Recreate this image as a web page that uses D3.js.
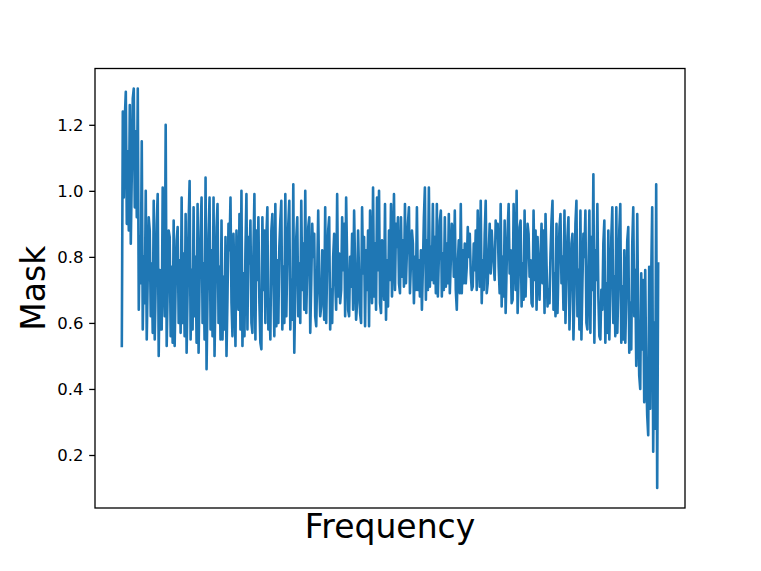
<!DOCTYPE html>
<html>
<head>
<meta charset="utf-8">
<script src="https://cdn.jsdelivr.net/npm/d3@7"></script>
<style>
  body { margin: 0; background: #fff; }
  text { font-family: "DejaVu Sans", sans-serif; }
</style>
</head>
<body>
<div class="canva"></div>
<script>
// mask value per frequency bin
const mask = [
  0.53, 1.24, 0.98, 1.22, 1.30, 0.90, 1.12, 0.88, 1.26, 0.84, 1.05, 1.28, 1.31, 0.95, 1.18, 0.92, 1.31, 0.64, 0.86, 0.72,
  1.15, 0.58, 0.80, 0.66, 1.00, 0.55, 0.74, 0.92, 0.88, 0.62, 0.78, 0.57, 0.97, 0.55, 0.72, 0.90, 0.99, 0.50, 0.76, 0.58,
  0.58, 1.01, 0.75, 0.62, 1.20, 0.53, 0.70, 0.88, 0.86, 0.56, 0.77, 0.54, 0.91, 0.53, 0.72, 0.85, 0.89, 0.60, 0.79, 0.57,
  0.98, 0.60, 0.81, 0.56, 0.93, 0.51, 0.70, 0.90, 1.03, 0.55, 0.76, 0.58, 0.95, 0.62, 0.80, 0.54, 0.96, 0.51, 0.73, 0.88,
  0.98, 0.60, 0.78, 0.55, 1.04, 0.46, 0.69, 0.87, 0.98, 0.58, 0.82, 0.56, 0.98, 0.50, 0.71, 0.89, 0.96, 0.60, 0.77, 0.55,
  0.91, 0.55, 0.74, 0.58, 0.86, 0.50, 0.68, 0.90, 0.82, 0.98, 0.66, 0.56, 0.87, 0.72, 0.53, 0.88, 0.76, 0.64, 0.93, 0.58,
  1.00, 0.53, 0.75, 0.56, 0.82, 0.99, 0.58, 0.86, 0.78, 0.91, 0.60, 0.57, 0.81, 0.99, 0.55, 0.88, 0.73, 0.92, 0.66, 0.54,
  0.52, 0.92, 0.70, 0.88, 0.60, 0.86, 0.95, 0.58, 0.67, 0.55, 0.88, 0.93, 0.74, 0.56, 0.96, 0.59, 0.79, 0.60, 0.83, 0.91,
  0.97, 0.58, 0.77, 0.60, 0.99, 0.62, 0.80, 0.90, 0.97, 0.58, 0.73, 0.61, 1.02, 0.51, 0.70, 0.86, 0.92, 0.62, 0.78, 0.60,
  0.97, 0.70, 0.84, 0.64, 1.00, 0.63, 0.76, 0.89, 0.92, 0.57, 0.72, 0.90, 0.80, 0.87, 0.62, 0.59, 0.75, 0.94, 0.71, 0.62,
  0.65, 0.82, 0.74, 0.61, 0.95, 0.60, 0.78, 0.88, 0.92, 0.58, 0.70, 0.60, 0.80, 0.87, 0.73, 0.64, 0.99, 0.68, 0.81, 0.66,
  0.70, 0.92, 0.76, 0.90, 0.62, 0.98, 0.79, 0.64, 0.62, 0.80, 0.71, 0.87, 0.64, 0.94, 0.77, 0.61, 0.66, 0.88, 0.74, 0.63,
  0.60, 0.95, 0.75, 0.86, 0.59, 0.82, 0.70, 0.88, 0.59, 0.94, 0.80, 0.66, 1.01, 0.68, 0.84, 0.64, 0.98, 0.76, 1.00, 0.66,
  0.63, 0.85, 0.74, 0.67, 0.96, 0.61, 0.79, 0.65, 0.88, 0.73, 0.96, 0.68, 0.81, 0.99, 0.70, 0.90, 0.83, 0.92, 0.72, 0.69,
  0.92, 0.74, 0.85, 0.71, 0.96, 0.72, 0.82, 0.90, 0.95, 0.69, 0.78, 0.88, 0.84, 0.66, 0.80, 0.70, 0.95, 0.70, 0.79, 0.68,
  0.82, 0.64, 0.77, 0.92, 1.01, 0.67, 0.85, 0.70, 1.01, 0.71, 0.83, 0.73, 0.96, 0.72, 0.86, 0.69, 0.96, 0.68, 0.80, 0.91,
  0.94, 0.68, 0.81, 0.70, 0.92, 0.71, 0.84, 0.72, 0.93, 0.69, 0.79, 0.90, 0.88, 0.74, 0.94, 0.70, 0.64, 0.78, 0.85, 0.69,
  0.96, 0.69, 0.82, 0.72, 0.84, 0.72, 0.77, 0.89, 0.80, 0.87, 0.75, 0.70, 0.71, 0.84, 0.76, 0.88, 0.70, 0.94, 0.80, 0.71,
  0.97, 0.66, 0.79, 0.70, 0.87, 0.97, 0.69, 0.72, 0.81, 0.90, 0.75, 0.88, 0.82, 0.78, 0.73, 0.91, 0.86, 0.90, 0.77, 0.69,
  0.96, 0.65, 0.80, 0.68, 0.91, 0.63, 0.77, 0.88, 0.96, 0.75, 0.82, 0.66, 0.67, 0.96, 0.79, 0.70, 1.00, 0.63, 0.74, 0.89,
  0.91, 0.65, 0.78, 0.67, 0.94, 0.68, 0.80, 0.90, 0.87, 0.74, 0.79, 0.66, 0.65, 0.94, 0.73, 0.88, 0.64, 0.86, 0.76, 0.67,
  0.80, 0.90, 0.72, 0.88, 0.63, 0.93, 0.78, 0.65, 0.70, 0.66, 0.81, 0.91, 0.97, 0.64, 0.75, 0.62, 0.90, 0.63, 0.77, 0.89,
  0.93, 0.72, 0.80, 0.64, 0.94, 0.60, 0.74, 0.86, 0.92, 0.58, 0.71, 0.84, 0.87, 0.55, 0.69, 0.90, 0.97, 0.62, 0.76, 0.58,
  0.94, 0.55, 0.72, 0.87, 0.80, 0.94, 0.60, 0.58, 0.75, 0.94, 0.57, 0.86, 0.70, 1.05, 0.54, 0.82, 0.73, 0.96, 0.68, 0.56,
  0.55, 0.70, 0.64, 0.84, 0.91, 0.54, 0.72, 0.57, 0.88, 0.55, 0.69, 0.86, 0.95, 0.60, 0.74, 0.56, 0.95, 0.57, 0.70, 0.88,
  0.96, 0.54, 0.71, 0.55, 0.82, 0.54, 0.68, 0.85, 0.89, 0.51, 0.66, 0.52, 0.84, 0.95, 0.62, 0.76, 0.47, 0.93, 0.60, 0.44,
  0.40, 0.75, 0.52, 0.73, 0.36, 0.76, 0.45, 0.32, 0.26, 0.77, 0.34, 0.74, 0.95, 0.21, 0.60, 0.28, 1.02, 0.10, 0.78
];

const yTicks = [0.2, 0.4, 0.6, 0.8, 1.0, 1.2];
const xLabel = "Frequency";
const yLabel = "Mask";

const width = 761, height = 571;
const margin = {top: 68.5, right: 76, bottom: 63, left: 95};

const svg = d3.select(".canva").append("svg")
    .attr("width", width)
    .attr("height", height);

// matplotlib style 5% padding around the data
const n = mask.length;
const x = d3.scaleLinear()
    .domain([-0.05 * (n - 1), 1.05 * (n - 1)])
    .range([margin.left, width - margin.right]);

const yMin = d3.min(mask), yMax = d3.max(mask);
const pad = (yMax - yMin) * 0.05;
const y = d3.scaleLinear()
    .domain([yMin - pad, yMax + pad])
    .range([height - margin.bottom, margin.top]);

const line = d3.line()
    .x((d, i) => x(i))
    .y(d => y(d));

svg.append("path")
    .datum(mask)
    .attr("fill", "none")
    .attr("stroke", "#1f77b4")
    .attr("stroke-width", 2.6)
    .attr("stroke-linejoin", "round")
    .attr("stroke-linecap", "square")
    .attr("d", line);

// frame
svg.append("rect")
    .attr("x", margin.left)
    .attr("y", margin.top)
    .attr("width", width - margin.right - margin.left)
    .attr("height", height - margin.bottom - margin.top)
    .attr("fill", "none")
    .attr("stroke", "#000")
    .attr("stroke-width", 1.3);

const yAxis = svg.append("g")
    .attr("transform", `translate(${margin.left},0)`)
    .call(d3.axisLeft(y)
        .tickValues(yTicks)
        .tickFormat(d3.format(".1f"))
        .tickSize(5.8)
        .tickPadding(5.8));

yAxis.select(".domain").remove();
yAxis.selectAll(".tick line").attr("stroke", "#000").attr("stroke-width", 1.3);
yAxis.selectAll(".tick text")
    .attr("fill", "#000")
    .style("font-size", "16.5px")
    .style("font-family", "DejaVu Sans");

svg.append("text")
    .attr("x", (margin.left + width - margin.right) / 2)
    .attr("y", 538)
    .attr("text-anchor", "middle")
    .style("font-size", "33px")
    .text(xLabel);

svg.append("text")
    .attr("transform", `translate(45, ${(margin.top + height - margin.bottom) / 2}) rotate(-90)`)
    .attr("text-anchor", "middle")
    .style("font-size", "33px")
    .text(yLabel);
</script>
</body>
</html>
